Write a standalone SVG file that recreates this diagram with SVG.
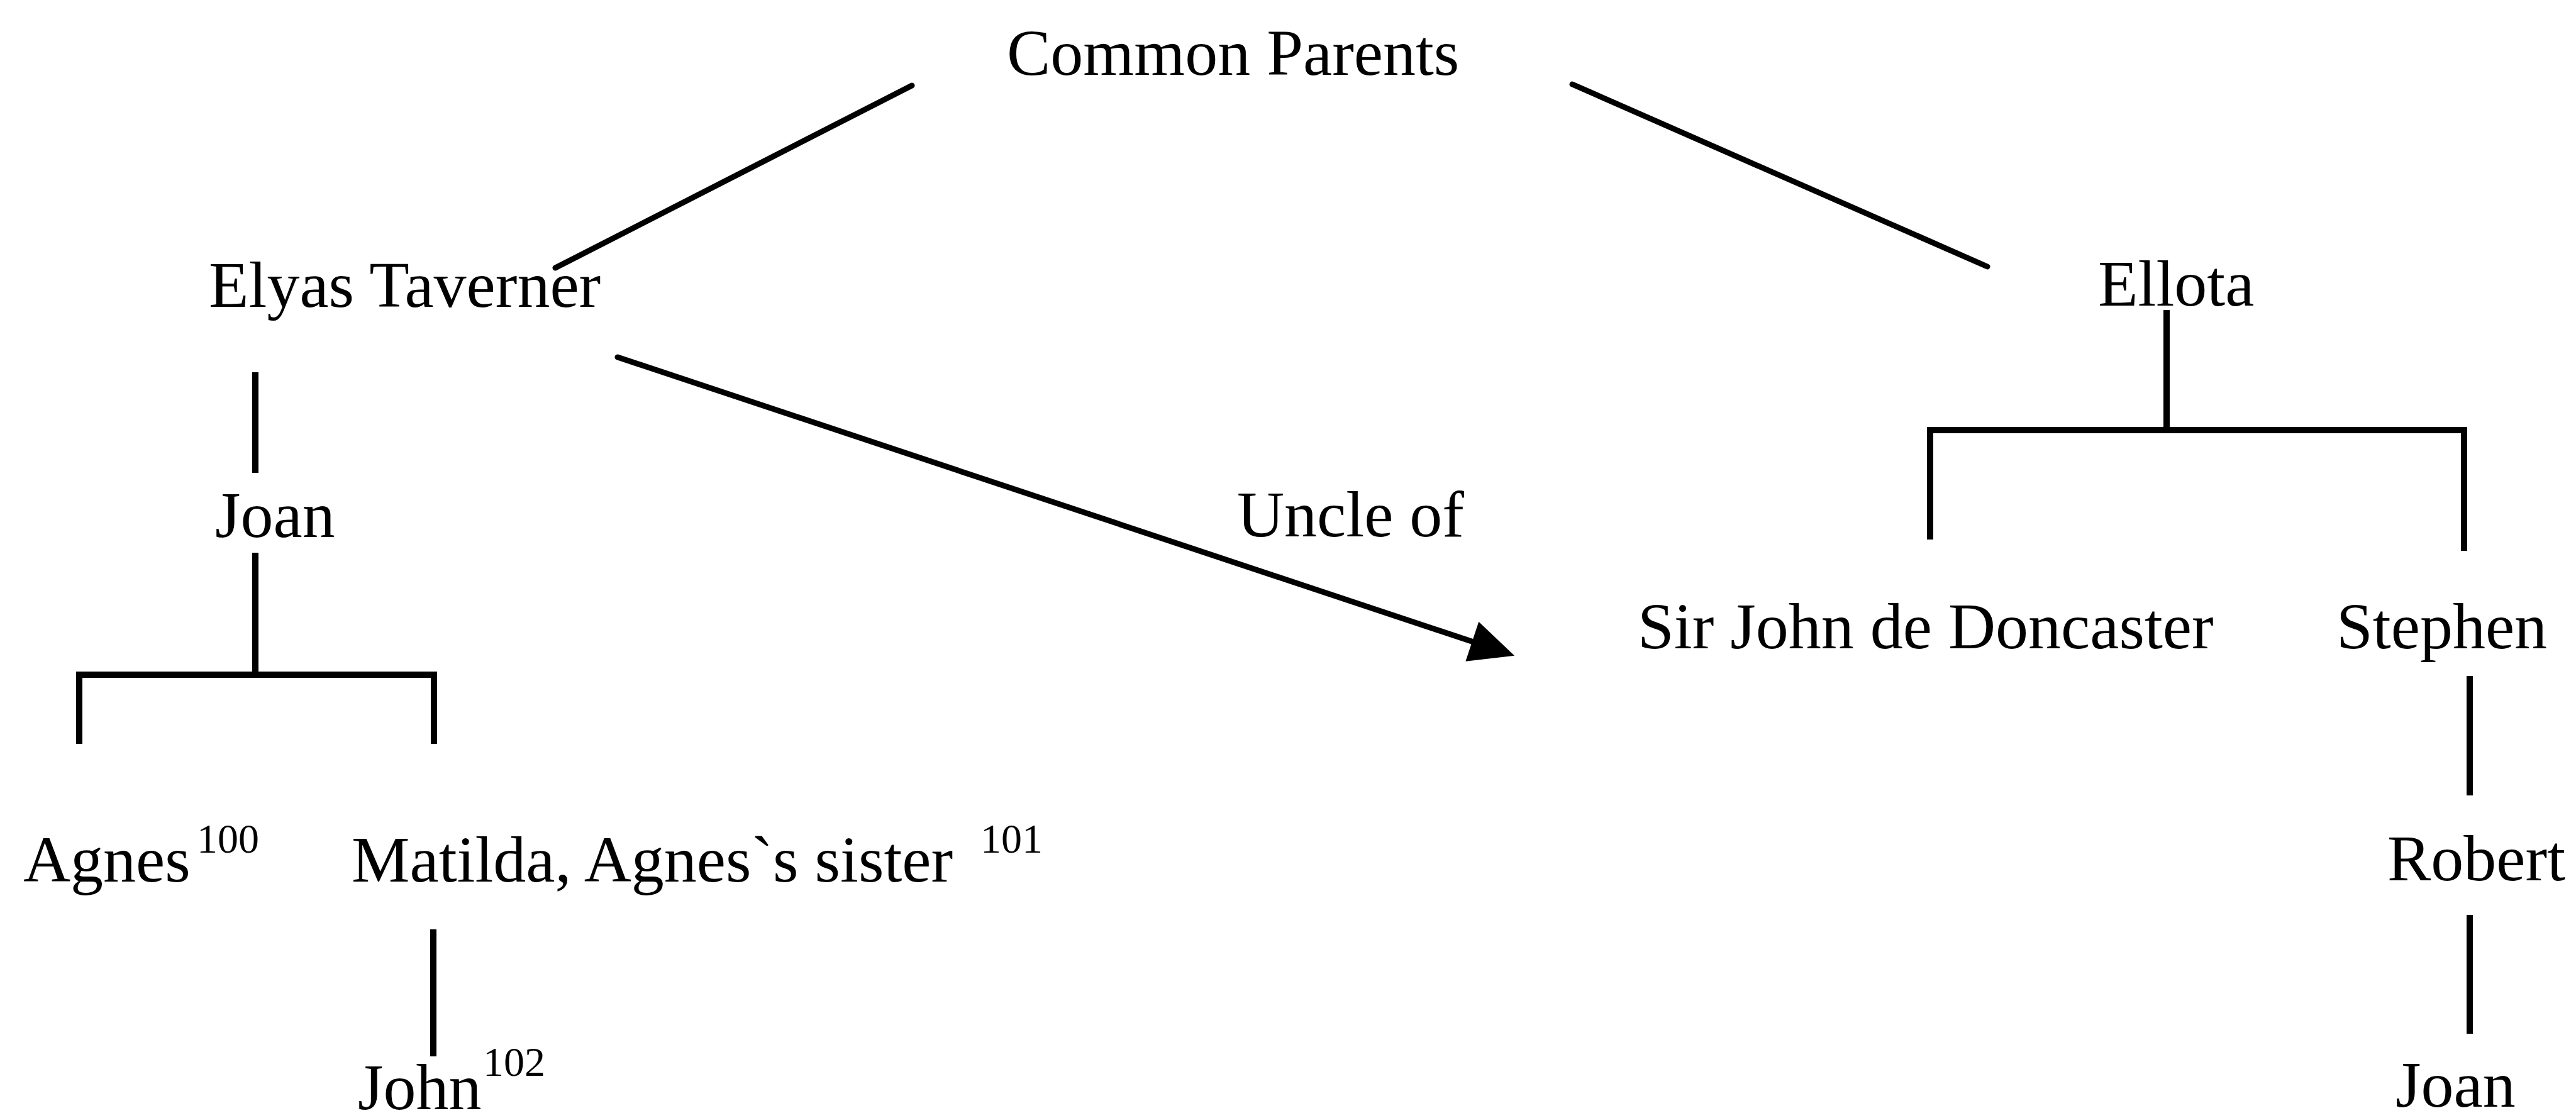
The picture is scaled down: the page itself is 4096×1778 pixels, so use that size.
<svg xmlns="http://www.w3.org/2000/svg" width="4096" height="1778" viewBox="0 0 4096 1778">
  <style>
    text { font-family: "Liberation Serif", "Times New Roman", serif; font-size: 104px; fill: #000; }
    .sup { font-size: 66px; }
    .link { stroke: #000; stroke-width: 9; fill: none; stroke-linecap: round; }
    .stem { stroke: #000; stroke-width: 10; fill: none; stroke-linecap: butt; }
  </style>
  <defs>
    <marker id="arrow" markerUnits="userSpaceOnUse" markerWidth="80" markerHeight="80" viewBox="-4 -32 70 64" refX="2" refY="0" orient="auto">
      <path d="M0,-29 L62,0 L0,29 Z" fill="#000"/>
    </marker>
  </defs>
  <rect width="4096" height="1778" fill="#fff"/>

  <!-- connectors -->
  <g id="connectors">
    <line class="link" x1="1450" y1="136" x2="883" y2="426"/>
    <line class="link" x1="2500" y1="134" x2="3160" y2="424"/>
    <line class="link" x1="982" y1="568" x2="2343" y2="1021" marker-end="url(#arrow)"/>
    <!-- Ellota's children -->
    <line class="stem" x1="3445" y1="493" x2="3445" y2="684"/>
    <path class="stem" d="M3069,858 V684 H3918 V876"/>
    <!-- Elyas to Joan -->
    <line class="stem" x1="406" y1="592" x2="406" y2="752"/>
    <line class="stem" x1="406" y1="879" x2="406" y2="1073"/>
    <path class="stem" d="M126,1183 V1073 H690 V1183"/>
    <line class="stem" x1="689" y1="1478" x2="689" y2="1680"/>
    <!-- Stephen's line -->
    <line class="stem" x1="3927" y1="1075" x2="3927" y2="1265"/>
    <line class="stem" x1="3927" y1="1455" x2="3927" y2="1644"/>
  </g>

  <!-- nodes -->
  <g id="common-parents"><text x="1601" y="119">Common Parents</text></g>
  <g id="elyas-taverner"><text x="332" y="488">Elyas Taverner</text></g>
  <g id="ellota"><text x="3336" y="486">Ellota</text></g>
  <g id="joan-left"><text x="342" y="854">Joan</text></g>
  <g id="uncle-of"><text x="1967" y="853">Uncle of</text></g>
  <g id="sir-john"><text x="2604" y="1031">Sir John de Doncaster</text></g>
  <g id="stephen"><text x="3715" y="1031">Stephen</text></g>
  <g id="agnes"><text x="37" y="1402">Agnes</text><text class="sup" x="313" y="1356">100</text></g>
  <g id="matilda"><text x="559" y="1402">Matilda, Agnes`s sister</text><text class="sup" x="1559" y="1356">101</text></g>
  <g id="robert"><text x="3796" y="1400">Robert</text></g>
  <g id="john"><text x="569" y="1764">John</text><text class="sup" x="768" y="1711">102</text></g>
  <g id="joan-right"><text x="3809" y="1760">Joan</text></g>
</svg>
